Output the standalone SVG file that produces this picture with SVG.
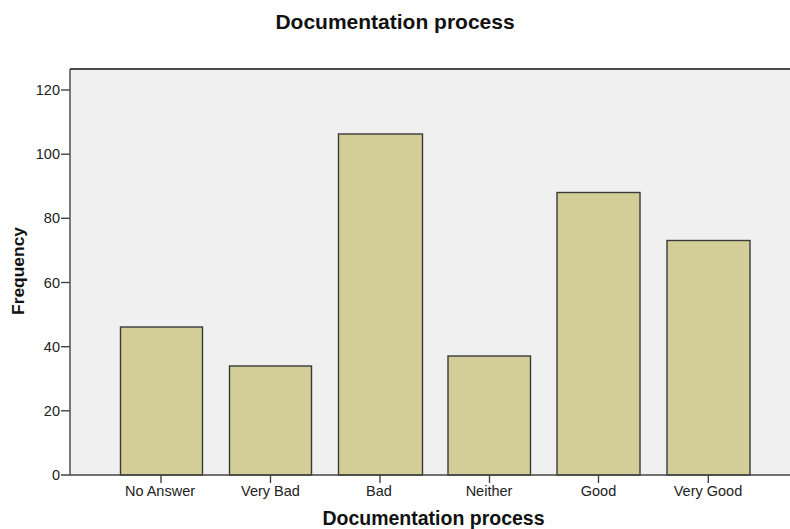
<svg xmlns="http://www.w3.org/2000/svg" width="790" height="529" viewBox="0 0 790 529">
<style>
.bar{fill:#d3ce97;stroke:#3a3a3a;stroke-width:1.4}
.ax{stroke:#444;stroke-width:1.4;fill:none}
.tk{font-family:"Liberation Sans",Arial,sans-serif;font-size:14.5px;fill:#222}
.tt{font-family:"Liberation Sans",Arial,sans-serif;font-weight:bold;fill:#111}
</style>
<rect width="790" height="529" fill="#ffffff"/>
<g id="plot">
<rect x="70" y="69" width="722" height="406" fill="#f0f0f0"/>
<line x1="70" y1="69" x2="790" y2="69" stroke="#111" stroke-width="1.4"/>
</g>
<g id="bars">
<rect id="bar-no-answer" class="bar" x="120.5" y="327" width="82" height="148"/>
<rect id="bar-very-bad" class="bar" x="229.5" y="366" width="82" height="109"/>
<rect id="bar-bad" class="bar" x="338.5" y="134" width="84" height="341"/>
<rect id="bar-neither" class="bar" x="448" y="356" width="82.5" height="119"/>
<rect id="bar-good" class="bar" x="557" y="192.5" width="83" height="282.5"/>
<rect id="bar-very-good" class="bar" x="667" y="240.5" width="83" height="234.5"/>
</g>
<g id="axes">
<line class="ax" x1="70" y1="69" x2="70" y2="475"/>
<line class="ax" x1="61" y1="475" x2="790" y2="475"/>
<g class="ax">
<line x1="61" y1="90" x2="70" y2="90"/>
<line x1="61" y1="154.2" x2="70" y2="154.2"/>
<line x1="61" y1="218.3" x2="70" y2="218.3"/>
<line x1="61" y1="282.5" x2="70" y2="282.5"/>
<line x1="61" y1="346.7" x2="70" y2="346.7"/>
<line x1="61" y1="410.8" x2="70" y2="410.8"/>
<line x1="161" y1="475" x2="161" y2="483"/>
<line x1="270.5" y1="475" x2="270.5" y2="483"/>
<line x1="380" y1="475" x2="380" y2="483"/>
<line x1="489.5" y1="475" x2="489.5" y2="483"/>
<line x1="598.5" y1="475" x2="598.5" y2="483"/>
<line x1="708.3" y1="475" x2="708.3" y2="483"/>
</g>
</g>
<g id="labels" class="tk">
<text x="60" y="95" text-anchor="end">120</text>
<text x="60" y="159.2" text-anchor="end">100</text>
<text x="60" y="223.3" text-anchor="end">80</text>
<text x="60" y="287.5" text-anchor="end">60</text>
<text x="60" y="351.7" text-anchor="end">40</text>
<text x="60" y="415.8" text-anchor="end">20</text>
<text x="60" y="480" text-anchor="end">0</text>
<text x="160" y="496" text-anchor="middle">No Answer</text>
<text x="270.5" y="496" text-anchor="middle">Very Bad</text>
<text x="379" y="496" text-anchor="middle">Bad</text>
<text x="489" y="496" text-anchor="middle">Neither</text>
<text x="598.5" y="496" text-anchor="middle">Good</text>
<text x="708" y="496" text-anchor="middle">Very Good</text>
</g>
<text id="title" class="tt" x="395" y="29" text-anchor="middle" font-size="21">Documentation process</text>
<text id="x-title" class="tt" x="433.5" y="525" text-anchor="middle" font-size="19.5">Documentation process</text>
<text id="y-title" class="tt" transform="translate(24,271) rotate(-90)" text-anchor="middle" font-size="17.4">Frequency</text>
</svg>
